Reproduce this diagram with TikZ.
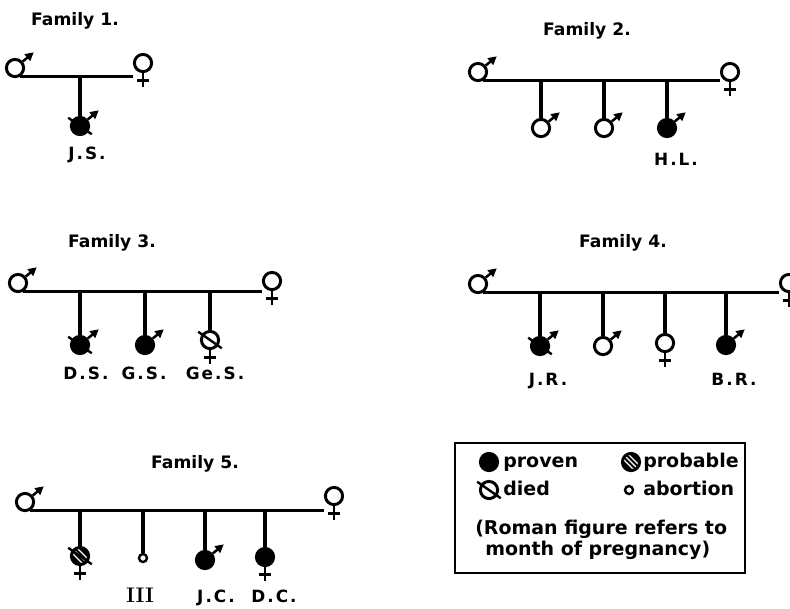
\documentclass[tikz,border=0pt]{standalone}
\usepackage{fontspec}
\usepackage{tikz}
\usetikzlibrary{arrows.meta}
\newfontfamily\famfont{DejaVu Sans}
\newfontfamily\famfontwide[LetterSpace=12]{DejaVu Sans}

\tikzset{
  person/.style={circle, draw, line width=2.1pt, minimum size=0.43cm, inner sep=0pt},
  proven/.style={fill=black},
  male/.style={append after command={(\tikzlastnode.40) edge[line width=1.8pt, -{Triangle[length=6pt,width=6pt]}] ++(40:0.36cm)}},
  female/.style={append after command={(\tikzlastnode.south) edge[line width=2.1pt] ++(0,-0.34cm)
      ([xshift=-0.15cm,yshift=-0.19cm]\tikzlastnode.south) edge[line width=2.1pt] ++(0.30cm,0)}},
  died/.style={append after command={([shift={(145:0.36cm)}]\tikzlastnode.center) edge[line width=1.7pt] ([shift={(-35:0.36cm)}]\tikzlastnode.center)}},
  probable/.style={fill=black, path picture={\foreach \d in {-0.09cm,0cm,0.09cm}
      \draw[white, line width=0.9pt] ([shift={(45:\d)}]path picture bounding box.center) +(-0.3cm,0.3cm) -- +(0.3cm,-0.3cm);}},
  abortion/.style={circle, draw, line width=1.7pt, minimum size=0.2cm, inner sep=0pt},
  bond/.style={line width=2.2pt},
  famtitle/.style={font=\famfont\bfseries\fontsize{12.2}{15}\selectfont, anchor=base, inner sep=0pt},
  childname/.style={font=\famfontwide\bfseries\fontsize{12}{14}\selectfont, anchor=base, inner sep=0pt},
  legendtext/.style={font=\famfont\bfseries\fontsize{13.5}{16}\selectfont, anchor=base west, inner sep=0pt},
}

\begin{document}
\begin{tikzpicture}[x=0.025cm, y=-0.025cm]
\useasboundingbox (0,0) rectangle (790,608);
\clip (0,0) rectangle (790,608);

%Family 1
\node[famtitle] (t1) at (75,25) {Family 1.};
\node[person, male] (m1) at (15,68) {};
\node[person, female] (f1) at (143,63) {};
\node[person, proven, died, male] (c11) at (80,126) {};
\draw[bond] (m1.-60) -- (m1.-60 -| f1.west);
\draw[bond] (m1.-60 -| c11.north) -- (c11.north);
\node[childname] (js) at (87,159) {J.S.};

%Family 2
\node[famtitle] (t2) at (587,35) {Family 2.};
\node[person, male] (m2) at (478,72) {};
\node[person, female] (f2) at (730,72) {};
\node[person, male] (c21) at (541,128) {};
\node[person, male] (c22) at (604,128) {};
\node[person, proven, male] (c23) at (667,128) {};
\draw[bond] (m2.-60) -- (m2.-60 -| f2.west);
\foreach \c in {c21,c22,c23}
  \draw[bond] (m2.-60 -| \c.north) -- (\c.north);
\node[childname] (hl) at (676,165) {H.L.};

%Family 3
\node[famtitle] (t3) at (112,247) {Family 3.};
\node[person, male] (m3) at (18,283) {};
\node[person, female] (f3) at (272,281) {};
\node[person, proven, died, male] (c31) at (80,345) {};
\node[person, proven, male] (c32) at (145,345) {};
\node[person, died, female] (c33) at (210,340) {};
\draw[bond] (m3.-60) -- (m3.-60 -| f3.west);
\foreach \c in {c31,c32,c33}
  \draw[bond] (m3.-60 -| \c.north) -- (\c.north);
\node[childname] (ds) at (86,379) {D.S.};
\node[childname] (gs) at (144,379) {G.S.};
\node[childname] (ges) at (215,379) {Ge.S.};

%Family 4
\node[famtitle] (t4) at (623,247) {Family 4.};
\node[person, male] (m4) at (478,284) {};
\node[person, female] (f4) at (789,283) {};
\node[person, proven, died, male] (c41) at (540,346) {};
\node[person, male] (c42) at (603,346) {};
\node[person, female] (c43) at (665,343) {};
\node[person, proven, male] (c44) at (726,345) {};
\draw[bond] (m4.-60) -- (m4.-60 -| f4.west);
\foreach \c in {c41,c42,c43,c44}
  \draw[bond] (m4.-60 -| \c.north) -- (\c.north);
\node[childname] (jr) at (548,385) {J.R.};
\node[childname] (br) at (734,385) {B.R.};

%Family 5
\node[famtitle] (t5) at (195,468) {Family 5.};
\node[person, male] (m5) at (25,502) {};
\node[person, female] (f5) at (334,496) {};
\node[person, probable, died, female] (c51) at (80,556) {};
\node[abortion] (c52) at (143,558) {};
\node[person, proven, male] (c53) at (205,560) {};
\node[person, proven, female] (c54) at (265,557) {};
\draw[bond] (m5.-60) -- (m5.-60 -| f5.west);
\foreach \c in {c51,c52,c53,c54}
  \draw[bond] (m5.-60 -| \c.north) -- (\c.north);
\node[childname, font=\bfseries\fontsize{15}{17}\selectfont] (iii) at (140,602) {III};
\node[childname] (jc) at (216,602) {J.C.};
\node[childname] (dc) at (274,602) {D.C.};

%Legend
\draw[line width=1.5pt] (455,443) rectangle (745,573);
\node[person, proven] (kproven) at (489,462) {};
\node[legendtext] (tproven) at (503,467) {proven};
\node[person, probable] (kprobable) at (631,462) {};
\node[legendtext] (tprobable) at (643,467) {probable};
\node[person, died] (kdied) at (489,490) {};
\node[legendtext] (tdied) at (503,495) {died};
\node[abortion] (kabortion) at (629,490) {};
\node[legendtext] (tabortion) at (643,495) {abortion};
\node[legendtext] (troman) at (475,534) {(Roman figure refers to};
\node[legendtext] (tmonth) at (485,555) {month of pregnancy)};
\end{tikzpicture}
\end{document}
